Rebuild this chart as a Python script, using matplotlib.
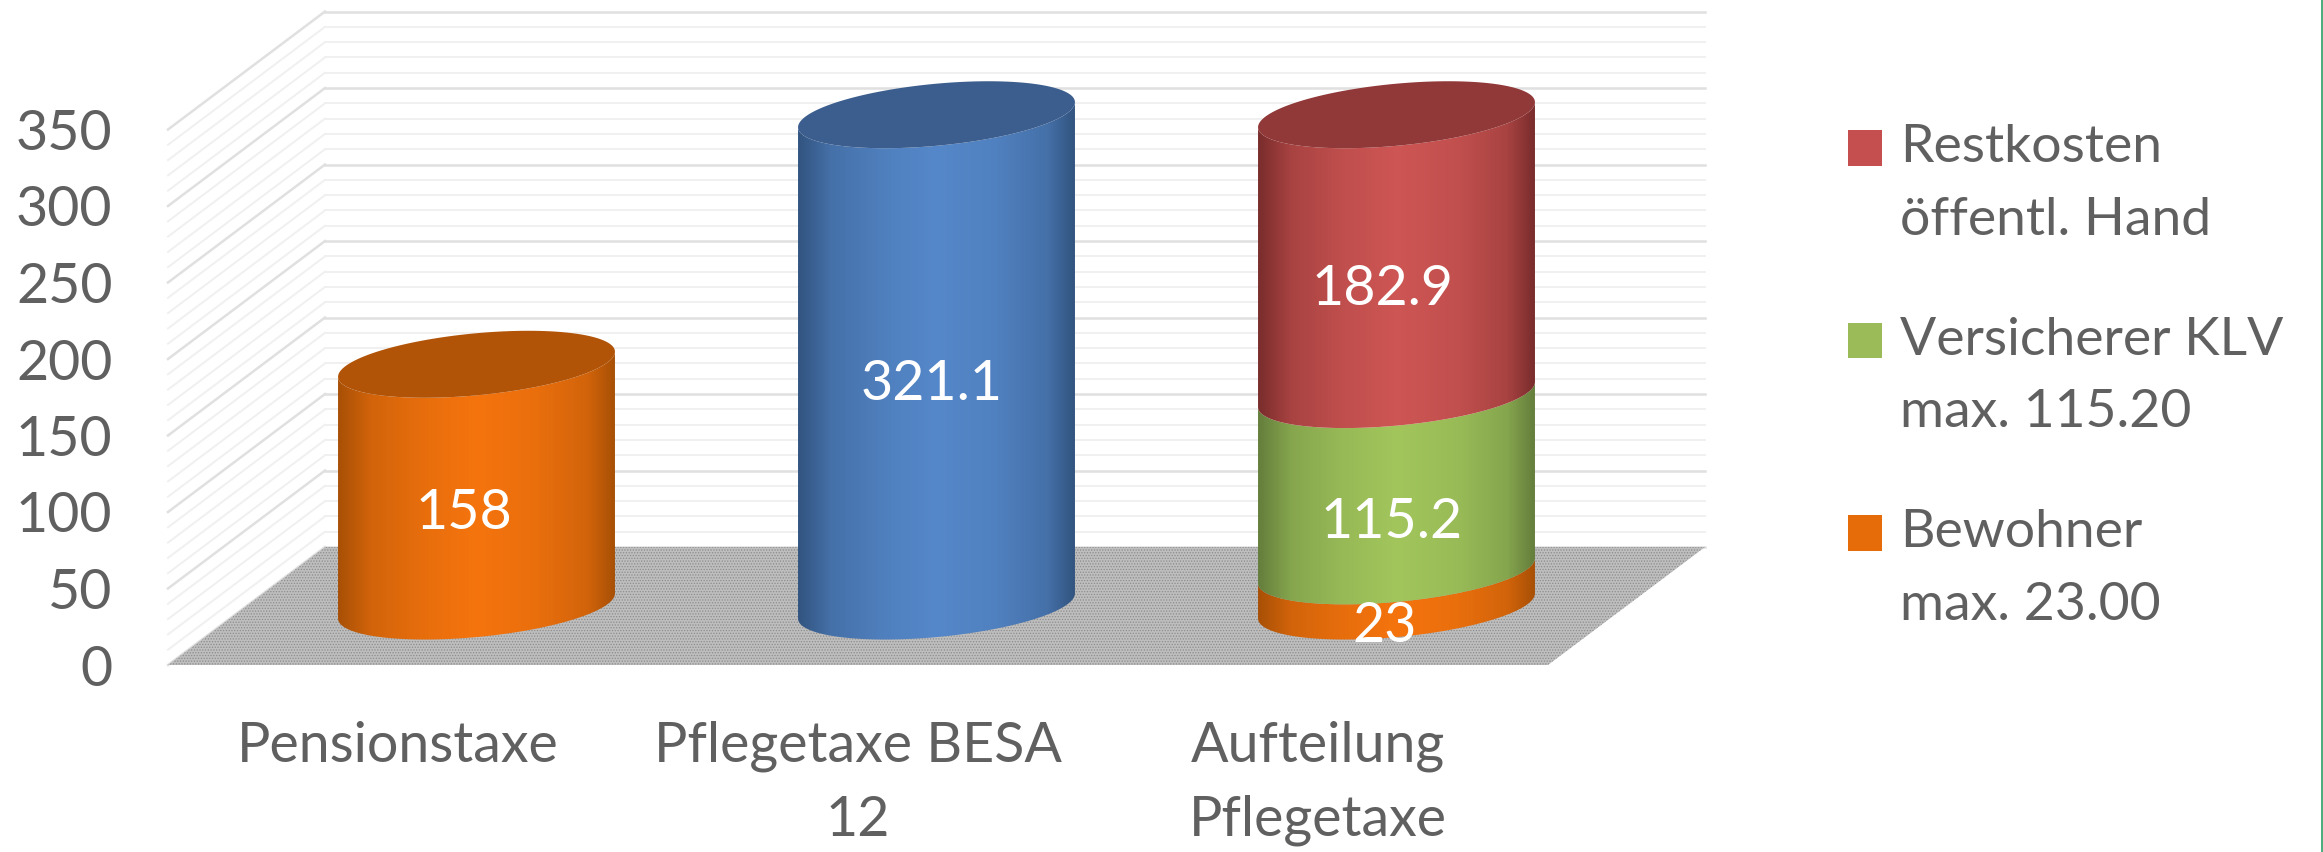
import numpy as np
import matplotlib
matplotlib.use("Agg")
import matplotlib.pyplot as plt
from matplotlib.patches import Polygon, Patch, Rectangle
from matplotlib.legend_handler import HandlerPatch

plt.rcParams['font.family'] = ['Lato', 'DejaVu Sans']
plt.rcParams['hatch.linewidth'] = 0.6

# chart data
categories = ['Pensionstaxe', 'Pflegetaxe BESA\n12', 'Aufteilung\nPflegetaxe']
y_ticks = [0, 50, 100, 150, 200, 250, 300, 350]
pension = [158]
besa = [321.1]
bewohner = [23]
versicherer = [115.2]
restkosten = [182.9]
legend_labels = ['Restkosten\nöffentl. Hand', 'Versicherer KLV\nmax. 115.20', 'Bewohner\nmax. 23.00']

ORANGE = ((168, 80, 6), (245, 116, 14), (178, 84, 8))
BLUE = ((50, 84, 128), (85, 136, 202), (60, 94, 142))
RED = ((122, 44, 44), (206, 86, 84), (145, 56, 56))
GREEN = ((100, 126, 60), (162, 198, 92), (120, 150, 70))
TEXT = '#606060'

W, H = 2323, 852
fig = plt.figure(figsize=(W / 100, H / 100), dpi=100, facecolor='white')
ax = fig.add_axes([168 / W, (H - 665) / H, 1380 / W, 535.5 / H])
ax.set_xlim(-0.5, 2.5)
ax.set_ylim(0, 350)
ax.patch.set_visible(False)
for s in ax.spines.values():
    s.set_visible(False)

# shear of the 3d box, in data units
depth_x = 157 / 460
depth_y = 77.1
half_w = 0.301
tilt = 8.2
half_d = 20.3

# walls
for v in np.arange(0, 351, 10):
    major = v in y_ticks
    col = '#e0e0e0' if major else '#f0f0f0'
    lw = 1.8 if major else 1.4
    ax.plot([-0.5 + depth_x, 2.5 + depth_x], [v + depth_y, v + depth_y], color=col, lw=lw, clip_on=False, zorder=1)
    ax.plot([-0.5, -0.5 + depth_x], [v, v + depth_y], color=col, lw=lw, clip_on=False, zorder=1)

# floor
ax.add_patch(Polygon([(-0.5, 0), (2.5, 0), (2.5 + depth_x, depth_y), (-0.5 + depth_x, depth_y)],
                     facecolor='#bebebe', edgecolor='#8c8c8c', hatch='......', lw=0, clip_on=False, zorder=2))


def ellipse(x, y, t):
    return x + half_w * np.cos(t), y + tilt * np.cos(t) + half_d * np.sin(t)


def segment(i, bottom, height, colors, cap):
    cx = i + 0.5 * depth_x
    base = bottom + 0.5 * depth_y
    t = np.linspace(np.pi, 2 * np.pi, 80)
    x0, y0 = ellipse(cx, base, t)
    x1, y1 = ellipse(cx, base + height, t[::-1])
    pts = np.column_stack([np.r_[x0, x1], np.r_[y0, y1]])
    poly = Polygon(pts, closed=True, facecolor='none', edgecolor='none', clip_on=False, zorder=3)
    ax.add_patch(poly)
    edge = np.array(colors[0]) / 255
    mid = np.array(colors[1]) / 255
    pos = [0, 0.12, 0.3, 0.5, 0.72, 0.9, 1]
    mix = [0, 0.55, 0.82, 1, 0.85, 0.55, 0]
    s = np.linspace(0, 1, 256)
    m = np.interp(s, pos, mix)[None, :, None]
    img = edge + (mid - edge) * m
    im = ax.imshow(img, extent=[cx - half_w, cx + half_w, base - 40, base + height + 40],
                   aspect='auto', interpolation='bilinear', zorder=3)
    # the cylinder rises above the axes box, so only the outline may clip it
    im.set_clip_box(fig.bbox)
    im.set_clip_path(poly)
    if cap:
        t2 = np.linspace(0, 2 * np.pi, 160)
        xc, yc = ellipse(cx, base + height, t2)
        ax.fill(xc, yc, color=np.array(colors[2]) / 255, lw=0, clip_on=False, zorder=4)


segment(0, 0, pension[0], ORANGE, True)
segment(1, 0, besa[0], BLUE, True)
segment(2, 0, bewohner[0], ORANGE, False)
segment(2, bewohner[0], versicherer[0], GREEN, False)
segment(2, bewohner[0] + versicherer[0], restkosten[0], RED, True)
ax.set_xlim(-0.5, 2.5)
ax.set_ylim(0, 350)


def label(i, bottom, value, dx, dy):
    ax.annotate(f'{value:g}', (i + 0.5 * depth_x, bottom + value / 2 + 0.5 * depth_y), xytext=(dx * 0.72, dy * 0.72),
                textcoords='offset points', ha='center', va='center', color='white', fontsize=40, zorder=6)


label(0, 0, pension[0], -13, -28)
label(1, 0, besa[0], -5, -24)
label(2, 0, bewohner[0], -12, -38)
label(2, bewohner[0], versicherer[0], -5, -40)
label(2, bewohner[0] + versicherer[0], restkosten[0], -14, -35)

ax.set_yticks(y_ticks)
ax.set_xticks(range(3))
ax.set_xticklabels(categories, linespacing=1.55)
ax.tick_params(axis='both', length=0, labelsize=40, labelcolor=TEXT)
ax.tick_params(axis='y', pad=40)
ax.tick_params(axis='x', pad=40)


# the swatch sits on the first text line
def first_line_patch(legend, orig_handle, xdescent, ydescent, width, height, fontsize):
    return Rectangle((-xdescent, -ydescent + 26), width, height)


handles = [Patch(facecolor=np.array(c) / 255) for c in [(197, 78, 78), (155, 187, 89), (230, 108, 10)]]
leg = ax.legend(handles, legend_labels, loc='upper left', bbox_to_anchor=(1848 / W, (H - 124) / H),
                bbox_transform=fig.transFigure, frameon=False, fontsize=38.5, labelcolor=TEXT,
                handlelength=0.64, handleheight=0.64, handletextpad=0.34, labelspacing=1.36,
                borderpad=0, borderaxespad=0,
                handler_map={Patch: HandlerPatch(patch_func=first_line_patch)})
for t in leg.get_texts():
    t.set_linespacing(1.68)

# green edge of the slide
fig.add_artist(Rectangle((2321 / W, 0), 2 / W, 1, transform=fig.transFigure, facecolor='#4fae7d', edgecolor='none'))

fig.savefig('out.png', dpi=100)
